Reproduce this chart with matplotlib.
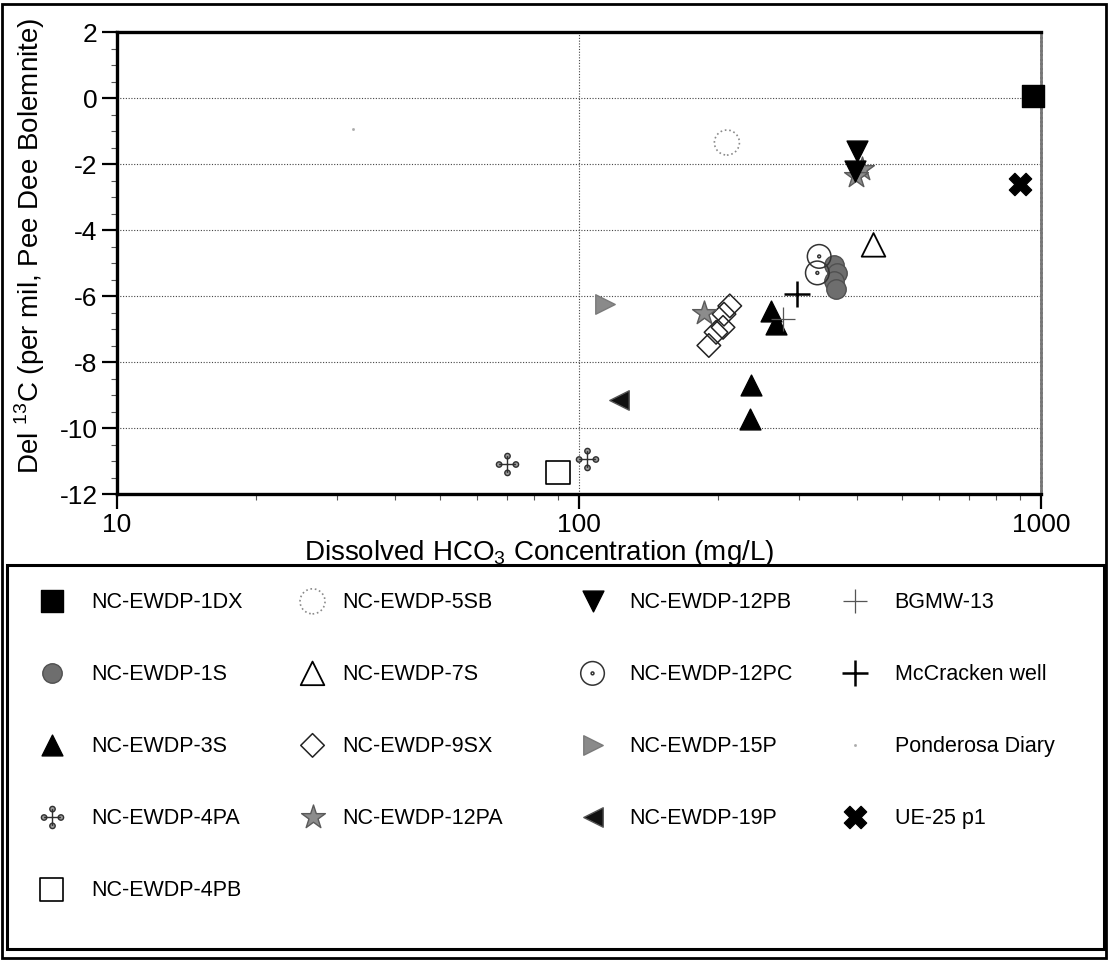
import matplotlib
matplotlib.use("Agg")
import matplotlib.pyplot as plt
from matplotlib.path import Path
from matplotlib.patches import Rectangle
from matplotlib.ticker import FixedLocator, NullFormatter, LogLocator
import numpy as np

plt.rcParams["font.family"] = ["Liberation Sans", "DejaVu Sans"]
plt.rcParams["mathtext.fontset"] = "custom"
plt.rcParams["mathtext.rm"] = "Liberation Sans"
plt.rcParams["axes.unicode_minus"] = False

# --- data: dissolved HCO3 (mg/L) and del 13C (per mil) per well ---
EWDP_1DX = ([960], [0.05])
EWDP_1S = ([356, 362, 357, 360], [-5.05, -5.3, -5.55, -5.8])
EWDP_3S = ([261, 267, 236, 234], [-6.45, -6.85, -8.7, -9.72])
EWDP_4PA = ([70, 104], [-11.1, -10.95])
EWDP_4PB = ([90], [-11.35])
EWDP_5SB = ([209], [-1.35])
EWDP_7S = ([434], [-4.45])
EWDP_9SX = ([212, 206, 205, 198, 191], [-6.3, -6.55, -6.95, -7.1, -7.5])
EWDP_12PA = ([186, 410, 398], [-6.5, -2.15, -2.35])
EWDP_12PB = ([400, 395], [-1.6, -2.2])
EWDP_12PC = ([331, 328], [-4.8, -5.3])
EWDP_15P = ([114], [-6.25])
EWDP_19P = ([122], [-9.15])
BGMW_13 = ([276], [-6.7])
MCCRACKEN = ([296], [-5.95])
PONDEROSA = ([32.5], [-0.95])
UE25_P1 = ([900], [-2.6])

LABELS = ["NC-EWDP-1DX", "NC-EWDP-1S", "NC-EWDP-3S", "NC-EWDP-4PA", "NC-EWDP-4PB",
          "NC-EWDP-5SB", "NC-EWDP-7S", "NC-EWDP-9SX", "NC-EWDP-12PA",
          "NC-EWDP-12PB", "NC-EWDP-12PC", "NC-EWDP-15P", "NC-EWDP-19P",
          "BGMW-13", "McCracken well", "Ponderosa Diary", "UE-25 p1"]
SERIES = [EWDP_1DX, EWDP_1S, EWDP_3S, EWDP_4PA, EWDP_4PB,
          EWDP_5SB, EWDP_7S, EWDP_9SX, EWDP_12PA,
          EWDP_12PB, EWDP_12PC, EWDP_15P, EWDP_19P,
          BGMW_13, MCCRACKEN, PONDEROSA, UE25_P1]
# legend columns: first entry index, last entry index (exclusive)
LEGEND_COLS = [(0, 5), (5, 9), (9, 13), (13, 17)]


def _flower_marker():
    # thin cross with small blobs at its four tips
    circ = Path.unit_circle()
    parts = [Path([(-1, 0), (1, 0)], [Path.MOVETO, Path.LINETO]),
             Path([(0, -1), (0, 1)], [Path.MOVETO, Path.LINETO])]
    for cx, cy in [(1, 0), (-1, 0), (0, 1), (0, -1)]:
        parts.append(Path(circ.vertices * 0.32 + [cx, cy], circ.codes))
    return Path.make_compound_path(*parts)


def _odot_marker():
    circ = Path.unit_circle()
    return Path.make_compound_path(circ, Path(circ.vertices * 0.12, circ.codes))


# marker, size (pt), face, edge, edge width, edge style
STYLES = [
    ("s", 16, "black", "black", 1.0, "-"),
    ("o", 14, "#6e6e6e", "#505050", 1.0, "-"),
    ("^", 15, "black", "black", 1.0, "-"),
    (_flower_marker(), 16, "#9a9a9a", "#303030", 1.0, "-"),
    ("s", 17, "none", "black", 1.2, "-"),
    ("o", 18, "none", "#8a8a8a", 1.2, ":"),
    ("^", 17, "none", "black", 1.3, "-"),
    ("D", 12, "none", "#222222", 1.1, "-"),
    ("*", 18, "#8c8c8c", "#5a5a5a", 1.0, "-"),
    ("v", 15, "black", "black", 1.0, "-"),
    (_odot_marker(), 17, "none", "#333333", 1.1, "-"),
    (">", 14, "#8a8a8a", "#7a7a7a", 1.0, "-"),
    ("<", 14, "#111111", "#555555", 1.0, "-"),
    ("+", 17, "#555555", "#555555", 0.9, "-"),
    ("+", 19, "black", "black", 1.8, "-"),
    (".", 3, "#aaaaaa", "#aaaaaa", 0.5, "-"),
    ("X", 16, "black", "black", 1.0, "-"),
]

fig = plt.figure(figsize=(11.08, 9.62), dpi=100)
W, H = 1108, 962
ax = fig.add_axes([117 / W, 1 - 495 / H, (1041 - 117) / W, (495 - 33) / H])

handles = []
for (xs, ys), label, (mk, ms, fc, ec, lw, ls) in zip(SERIES, LABELS, STYLES):
    h = ax.scatter(xs, ys, s=ms ** 2, marker=mk, facecolors=fc, edgecolors=ec,
                   linewidths=lw, linestyles=ls, label=label, zorder=3, clip_on=False)
    handles.append(h)

ax.set_xscale("log")
ax.set_xlim(10, 1000)
ax.set_ylim(-12, 2)
ax.set_yticks(np.arange(-12, 3, 2))
ax.yaxis.set_minor_locator(FixedLocator(np.arange(-12, 2.01, 0.5)))
ax.xaxis.set_major_locator(FixedLocator([10, 100, 1000]))
ax.xaxis.set_major_formatter(plt.FuncFormatter(lambda v, p: f"{int(v)}"))
ax.xaxis.set_minor_locator(LogLocator(base=10, subs=np.arange(2, 10)))
ax.xaxis.set_minor_formatter(NullFormatter())

ax.grid(True, which="major", color="#444444", linestyle=(0, (1, 1.5)), linewidth=0.8)
ax.tick_params(which="major", direction="out", length=11, width=1.6, labelsize=19, pad=3)
ax.tick_params(axis="x", which="major", pad=2)
ax.tick_params(which="minor", direction="out", length=4, width=0.8, color="#555555")
for side in ["left", "bottom", "top"]:
    ax.spines[side].set_linewidth(2.4)
ax.spines["right"].set_linewidth(2.0)
ax.spines["right"].set_color("#777777")
ax.spines["right"].set_linestyle((0, (1, 0.6)))

ax.set_xlabel("Dissolved HCO$_3$ Concentration (mg/L)", fontsize=20)
ax.set_ylabel("Del $^{13}$C (per mil, Pee Dee Bolemnite)", fontsize=20)
ax.xaxis.set_label_coords(0.457, -0.094)
ax.yaxis.set_label_coords(-0.076, 0.54)

# legend block below the plot, one legend per column
col_left = [30, 291, 571, 833]
col_pad = [0.86, 0.4, 0.72, 0.86]
for (i0, i1), x0, pad in zip(LEGEND_COLS, col_left, col_pad):
    fig.legend(handles=handles[i0:i1], labels=LABELS[i0:i1], loc="upper left",
               bbox_to_anchor=(x0 / W, 1 - 592 / H), frameon=False, fontsize=15.5,
               handlelength=2.0, handletextpad=pad, labelspacing=2.37,
               borderpad=0, borderaxespad=0, scatterpoints=1)

fig.patches.append(Rectangle((7 / W, 1 - 950 / H), 1097 / W, (950 - 566) / H,
                             transform=fig.transFigure, fill=False,
                             edgecolor="black", linewidth=2.2))
fig.patches.append(Rectangle((2 / W, 1 - 959 / H), 1104 / W, (959 - 5) / H,
                             transform=fig.transFigure, fill=False,
                             edgecolor="black", linewidth=2.0))

fig.savefig("out.png", dpi=100)
